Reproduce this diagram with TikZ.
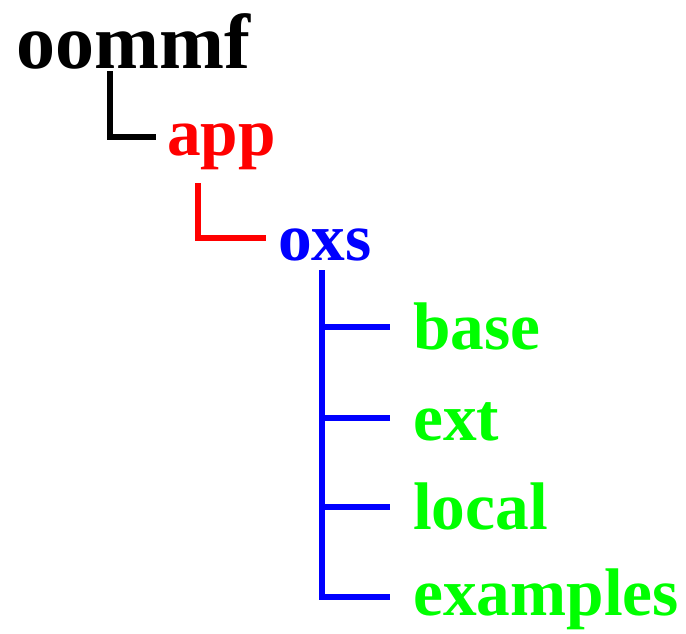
\documentclass[tikz,border=0pt]{standalone}
\usepackage{fontspec}
\setmainfont{Liberation Serif}
\usepackage{xcolor}
\usetikzlibrary{calc}

\begin{document}
\begin{tikzpicture}[x=0.75pt,y=-0.75pt,
    dir/.style={anchor=base west, inner sep=0pt, font=\bfseries\fontsize{50.5}{52}\selectfont},
    branch/.style={line width=4.6pt}]
    \useasboundingbox (0,0) rectangle (686,633);
    \node[dir, font=\bfseries\fontsize{58.5}{60}\selectfont] (oommf) at (16,68) {oommf};
    \node[dir, red] (app) at (167,155) {app};
    \node[dir, blue] (oxs) at (278,260) {oxs};
    \node[dir, green] (base) at (413,349) {base};
    \node[dir, green] (ext) at (413,440) {ext};
    \node[dir, green] (local) at (413,529) {local};
    \node[dir, green] (examples) at (413,615) {examples};
    \draw[branch, line width=5pt] ($(oommf.base west)+(94,3)$) |- ($(app.base west)+(-11,-18)$);
    \draw[branch, red] ($(app.base west)+(31,28)$) |- ($(oxs.base west)+(-12,-22)$);
    \draw[branch, blue] ($(oxs.base west)+(44,10)$) |- ($(examples.base west)+(-23,-18)$);
    \foreach \sub in {base,ext,local}
        \draw[branch, blue] ($(\sub.base west)+(-91,-22)$) -- ($(\sub.base west)+(-23,-22)$);
\end{tikzpicture}
\end{document}
